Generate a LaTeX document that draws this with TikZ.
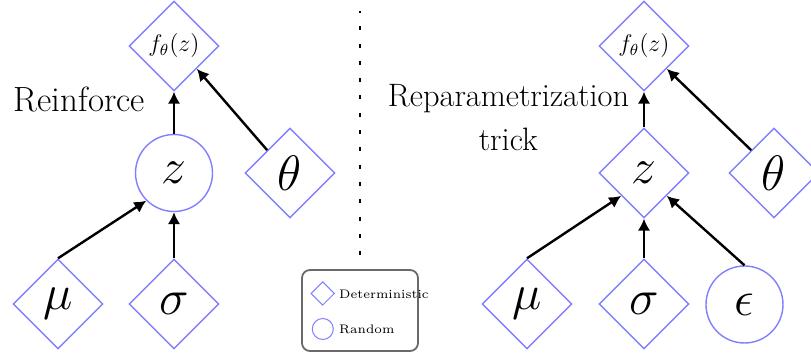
\documentclass[tikz,border=0pt]{standalone}
\usetikzlibrary{shapes.geometric,arrows.meta}
\definecolor{nodeblue}{RGB}{128,128,255}
\definecolor{legendgray}{RGB}{105,105,105}
\begin{document}
\begin{tikzpicture}[x=0.5pt,y=-0.5pt,
  det/.style={diamond,aspect=1,draw=nodeblue,line width=0.7pt,minimum size=45pt,inner sep=0pt,font=\fontsize{27}{30}\selectfont},
  rnd/.style={circle,draw=nodeblue,line width=0.7pt,minimum size=38.5pt,inner sep=0pt,font=\fontsize{27}{30}\selectfont},
  outnode/.style={det,font=\fontsize{12}{14}\selectfont},
  arr/.style={line width=1.2pt,-{Latex[length=6pt,width=6.3pt]}},
  lbl/.style={inner sep=0pt,anchor=base},
  legdet/.style={diamond,aspect=1,draw=nodeblue,line width=0.5pt,minimum size=11.8pt,inner sep=0pt},
  legrnd/.style={circle,draw=nodeblue,line width=0.5pt,minimum size=10.5pt,inner sep=0pt},
  legtxt/.style={inner sep=0pt,anchor=west,font=\fontsize{6.2}{7}\selectfont},
]
\useasboundingbox (0,0) rectangle (811,358);
% left: Reinforce
\node[outnode] (fL) at (174,46) {$f_\theta(z)$};
\node[rnd] (zL) at (174,173) {$z$};
\node[det] (thL) at (290,173) {$\theta$};
\node[det] (muL) at (58,304) {$\mu$};
\node[det] (sgL) at (174,304) {$\sigma$};
\node[lbl,font=\fontsize{17.5}{20}\selectfont] (tL) at (79.5,111.7) {Reinforce};
\draw[arr] (zL.north) -- (fL.south);
\draw[arr] (thL.north west) -- (fL.south east);
\draw[arr] (muL.north) -- (zL.south west);
\draw[arr] (sgL.north) -- (zL.south);
% right: Reparametrization trick
\node[outnode] (fR) at (644,46) {$f_\theta(z)$};
\node[det] (zR) at (644,173) {$z$};
\node[det] (thR) at (774,173) {$\theta$};
\node[det] (muR) at (527,304) {$\mu$};
\node[det] (sgR) at (644,304) {$\sigma$};
\node[rnd] (epR) at (744.5,304.5) {$\epsilon$};
\node[lbl,font=\fontsize{16.2}{19}\selectfont] (tR1) at (508.5,106.7) {Reparametrization};
\node[lbl,font=\fontsize{16.2}{19}\selectfont] (tR2) at (508.3,151) {trick};
\draw[arr] (zR.north) -- (fR.south);
\draw[arr] (thR.north west) -- (fR.south east);
\draw[arr] (muR.north) -- (zR.south west);
\draw[arr] (sgR.north) -- (zR.south);
\draw[arr] (epR.north) -- (zR.south east);
% separator
\coordinate (sepT) at (360,11);
\coordinate (sepB) at (360,260);
\draw[line width=1pt,dash pattern=on 2pt off 6.65pt,dash phase=1pt] (sepT) -- (sepB);
% legend
\draw[legendgray,line width=0.9pt,rounded corners=4pt] (302,270) rectangle (418,351);
\node[legdet] (lgD) at (322.7,293.5) {};
\node[legrnd] (lgR) at (322.8,329) {};
\node[legtxt] (lgDt) at (338.8,294) {Deterministic};
\node[legtxt] (lgRt) at (338.8,329) {Random};
\end{tikzpicture}
\end{document}
